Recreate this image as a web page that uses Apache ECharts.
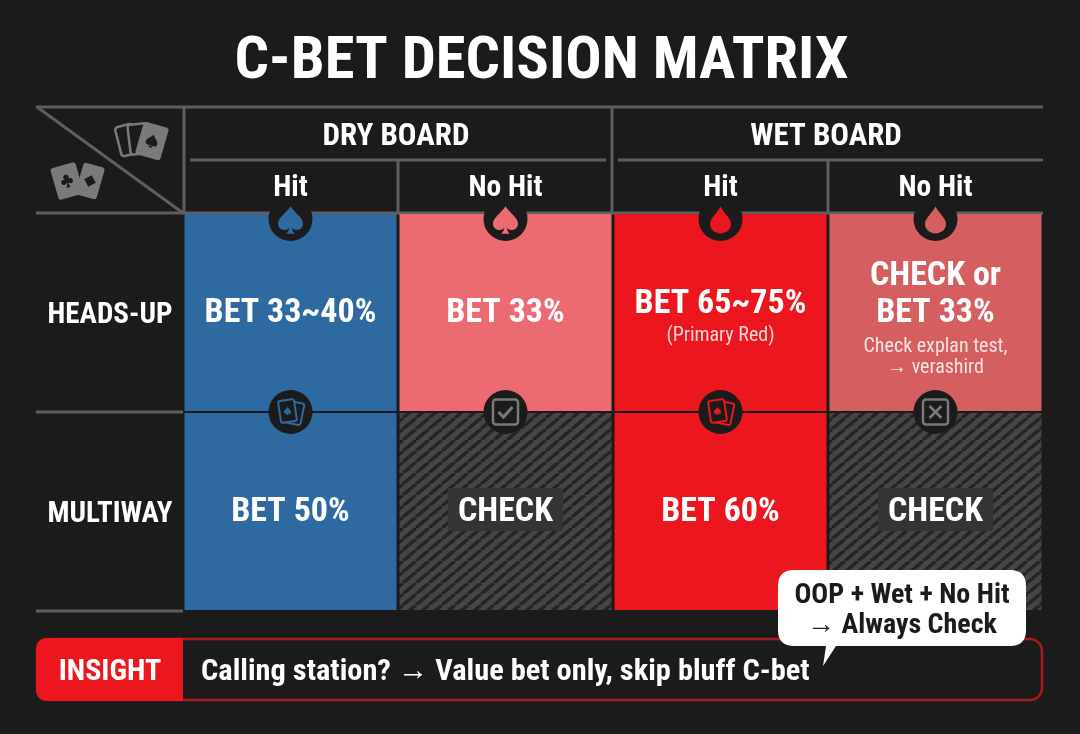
<!DOCTYPE html>
<html>
<head>
<meta charset="utf-8">
<title>C-Bet Decision Matrix</title>
<style>
  html, body { margin: 0; padding: 0; background: #1b1b1b; }
  #chart { width: 1080px; height: 734px; }
</style>
<script src="https://cdn.jsdelivr.net/npm/echarts@6/dist/echarts.min.js"></script>
</head>
<body>
<div id="chart"></div>
<script>
// table contents
var boards = ['DRY BOARD', 'WET BOARD'];
var columns = ['Hit', 'No Hit', 'Hit ', 'No Hit '];
var rows = ['HEADS-UP', 'MULTIWAY'];

var headsUpTitles = ['BET 33~40%', 'BET 33%', 'BET 65~75%', 'CHECK or\nBET 33%'];
var headsUpNotes = ['', '', '(Primary Red)', 'Check explan test,\n\u2192 verashird'];
var headsUpKinds = ['blue', 'salmon', 'red', 'muted'];
var headsUpIcons = ['spade', 'spade', 'drop', 'drop'];

var multiwayTitles = ['BET 50%', 'CHECK', 'BET 60%', 'CHECK'];
var multiwayNotes = ['', '', '', ''];
var multiwayKinds = ['blue', 'hatch', 'red', 'hatch'];
var multiwayIcons = ['cards', 'check', 'cards', 'cross'];

var titleText = 'C-BET DECISION MATRIX';
var insightLabel = 'INSIGHT';
var insightText = 'Calling station? \u2192 Value bet only, skip bluff C-bet';
var calloutText = 'OOP + Wet + No Hit\n\u2192 Always Check';

var titles = [headsUpTitles, multiwayTitles];
var notes = [headsUpNotes, multiwayNotes];
var kinds = [headsUpKinds, multiwayKinds];
var icons = [headsUpIcons, multiwayIcons];

var FONT = '"Roboto Condensed", "Liberation Sans Narrow", Roboto, sans-serif';
var BG = '#1b1b1b';
var LINE = '#5e5e5e';
var ICON = '#7a7a7a';
var colors = { blue: '#2e6a9f', salmon: '#ec6a72', red: '#ec161e', muted: '#d55f60' };

var SPADE = 'M12 1C8 7 2 10 2 15C2 18.5 5 20 7.5 20C9 20 10 19.4 11 18C10.8 20 10 22 8.5 23L15.5 23C14 22 13.2 20 13 18C14 19.4 15 20 16.5 20C19 20 22 18.5 22 15C22 10 16 7 12 1Z';
var CLUB = 'M12 1C9 1 7.5 3.5 7.5 5.5C7.5 7 8 8 9 9C5 7.5 2 10 2 13C2 16 5 18 7.5 17C9 16.5 10 15.5 11 14.5C10.8 17.5 10 20 8.5 23L15.5 23C14 20 13.2 17.5 13 14.5C14 15.5 15 16.5 16.5 17C19 18 22 16 22 13C22 10 19 7.5 15 9C16 8 16.5 7 16.5 5.5C16.5 3.5 15 1 12 1Z';
var DROP = 'M12 1C9 7 3 11 3 16C3 20.5 7 24 12 24C17 24 21 20.5 21 16C21 11 15 7 12 1Z';

function hatchPattern() {
  var w = 13;
  var h = 11;
  var c = document.createElement('canvas');
  c.width = w;
  c.height = h;
  var ctx = c.getContext('2d');
  ctx.fillStyle = '#464646';
  ctx.fillRect(0, 0, w, h);
  ctx.strokeStyle = '#242424';
  ctx.lineWidth = 3.5;
  [-w, 0, w].forEach(function (o) {
    ctx.beginPath();
    ctx.moveTo(o, h);
    ctx.lineTo(o + w, 0);
    ctx.stroke();
  });
  return { image: c, repeat: 'repeat' };
}
var hatch = hatchPattern();

function badgeIcon(name, color) {
  if (name === 'spade' || name === 'drop') {
    var w = name === 'spade' ? 25 : 21;
    return [{
      type: 'path', y: 1,
      shape: { pathData: name === 'spade' ? SPADE : DROP, layout: 'center', x: -w / 2, y: -14, width: w, height: 28 },
      style: { fill: color }
    }];
  }
  if (name === 'cards') {
    return [
      { type: 'rect', x: 4, y: 1, rotation: -0.2, shape: { x: -8, y: -11, width: 16, height: 22, r: 2 }, style: { fill: 'none', stroke: color, lineWidth: 2 } },
      { type: 'rect', x: -3, y: -1, rotation: 0.15, shape: { x: -8, y: -11, width: 16, height: 22, r: 2 }, style: { fill: BG, stroke: color, lineWidth: 2 } },
      { type: 'path', shape: { pathData: SPADE, layout: 'center', x: -7, y: -5, width: 8, height: 8 }, style: { fill: color } }
    ];
  }
  var mark = name === 'check'
    ? { type: 'polyline', shape: { points: [[-7, 0], [-2, 5], [7, -5]] }, style: { fill: 'none', stroke: color, lineWidth: 3 } }
    : { type: 'path', shape: { pathData: 'M-6 -6L6 6M6 -6L-6 6', layout: 'center', x: -6, y: -6, width: 12, height: 12 }, style: { fill: 'none', stroke: color, lineWidth: 2.5 } };
  return [
    { type: 'rect', shape: { x: -12.5, y: -12.5, width: 25, height: 25, r: 3 }, style: { fill: 'none', stroke: color, lineWidth: 2.5 } },
    mark
  ];
}

function cellText(text, y, size, weight, fill) {
  return {
    type: 'text', y: y,
    style: { text: text, font: weight + ' ' + size + 'px ' + FONT, fill: fill, align: 'center', verticalAlign: 'middle', lineHeight: size * 1.2 }
  };
}

function renderCell(params, api) {
  var col = api.value(0);
  var row = api.value(1);
  var c = api.coord([col, row]);
  var s = api.size([1, 1]);
  var kind = kinds[row][col];
  var title = titles[row][col];
  var note = notes[row][col];
  var children = [{
    type: 'rect',
    shape: { x: c[0] - s[0] / 2 + 1.5, y: c[1] - s[1] / 2 + 1, width: s[0] - 3, height: s[1] - 2 },
    style: { fill: kind === 'hatch' ? hatch : colors[kind] }
  }];
  var body = { type: 'group', x: c[0], y: c[1] + 1, children: [] };
  if (kind === 'hatch') {
    body.children.push({ type: 'rect', shape: { x: -57.5, y: -24.5, width: 115, height: 43, r: 3 }, style: { fill: '#343434' } });
  }
  if (title.indexOf('\n') >= 0) {
    var parts = title.split('\n');
    var extra = note.split('\n');
    body.children.push(cellText(parts[0], -37, 34, 'bold', '#fff'));
    body.children.push(cellText(parts[1], 0, 34, 'bold', '#fff'));
    body.children.push(cellText(extra[0], 33, 20, 'normal', 'rgba(255,255,255,0.82)'));
    body.children.push(cellText(extra[1], 54, 20, 'normal', 'rgba(255,255,255,0.82)'));
  } else if (note) {
    body.children.push(cellText(title, -9, 34, 'bold', '#fff'));
    body.children.push(cellText(note, 22, 20, 'normal', 'rgba(255,255,255,0.82)'));
  } else {
    body.children.push(cellText(title, 0, 34, 'bold', '#fff'));
  }
  children.push(body);
  return { type: 'group', children: children };
}

function renderBadge(params, api) {
  var col = api.value(0);
  var row = api.value(1);
  var c = api.coord([col, row]);
  var s = api.size([1, 1]);
  var name = icons[row][col];
  var color = kinds[row][col] === 'hatch' ? ICON : colors[kinds[row][col]];
  // first row badges sit a little below the header rule
  var y = c[1] - s[1] / 2 + (row === 0 ? 6 : 0);
  return {
    type: 'group', x: c[0], y: y,
    children: [{ type: 'circle', shape: { cx: 0, cy: 0, r: 22 }, style: { fill: BG } }].concat(badgeIcon(name, color))
  };
}

function filledCard(x, y, angle, w, h, mark) {
  return {
    type: 'group', x: x, y: y, rotation: angle,
    children: [
      { type: 'rect', shape: { x: -w / 2, y: -h / 2, width: w, height: h, r: 3 }, style: { fill: ICON } },
      { type: 'path', shape: { pathData: mark, layout: 'center', x: -6, y: -7, width: 12, height: 14 }, style: { fill: BG } }
    ]
  };
}

// corner card icons, insight bar and the callout on top of everything
function renderDecor() {
  return {
    type: 'group',
    children: [
      { type: 'rect', x: 127, y: 140, rotation: 0.25, shape: { x: -9, y: -15, width: 18, height: 30, r: 3 }, style: { fill: 'none', stroke: ICON, lineWidth: 2.5 } },
      { type: 'rect', x: 138, y: 139, rotation: 0.12, shape: { x: -9, y: -15, width: 18, height: 30, r: 3 }, style: { fill: BG, stroke: ICON, lineWidth: 2.5 } },
      filledCard(152, 141, -0.28, 26, 34, SPADE),
      filledCard(90, 181, -0.28, 22, 33, 'M12 4L20 12L12 20L4 12Z'),
      filledCard(67, 181, 0.28, 26, 33, CLUB),
      { type: 'rect', shape: { x: 37, y: 639, width: 1005, height: 61, r: 12 }, style: { fill: BG, stroke: '#a81a1e', lineWidth: 2.5 } },
      { type: 'path', shape: { pathData: 'M48 638L183 638L183 701L48 701Q36 701 36 689L36 650Q36 638 48 638Z', layout: 'cover', x: 36, y: 638, width: 147, height: 63 }, style: { fill: '#ec161e' } },
      { type: 'text', x: 110, y: 672, style: { text: insightLabel, font: 'bold 30px ' + FONT, fill: '#fff', align: 'center', verticalAlign: 'middle' } },
      { type: 'text', x: 201, y: 672, style: { text: insightText, font: 'bold 30.4px ' + FONT, fill: '#fff', align: 'left', verticalAlign: 'middle' } },
      { type: 'path', shape: { pathData: 'M794 570L1010 570Q1026 570 1026 586L1026 630Q1026 646 1010 646L836 646L823 666L826 646L794 646Q778 646 778 630L778 586Q778 570 794 570Z', layout: 'cover', x: 778, y: 570, width: 248, height: 96 }, style: { fill: '#fff' } },
      { type: 'text', x: 902, y: 610.5, style: { text: calloutText, font: 'bold 28px ' + FONT, fill: '#1b1b1b', align: 'center', verticalAlign: 'middle', lineHeight: 30 } }
    ]
  };
}

var cellData = [];
rows.forEach(function (r, ri) {
  columns.forEach(function (c, ci) {
    cellData.push([ci, ri]);
  });
});

function rule(x1, y1, x2, y2) {
  return { type: 'line', z: 1, shape: { x1: x1, y1: y1, x2: x2, y2: y2 }, style: { stroke: LINE, lineWidth: 3 } };
}

var chart = echarts.init(document.getElementById('chart'));
chart.setOption({
  backgroundColor: BG,
  animation: false,
  grid: { left: 183, top: 213, width: 860, height: 398 },
  xAxis: [{
    type: 'category', position: 'top', data: columns,
    axisLine: { show: false }, axisTick: { show: false }, splitLine: { show: false },
    axisLabel: { color: '#fff', fontFamily: FONT, fontSize: 29.5, fontWeight: 'bold', margin: 24, verticalAlign: 'middle', formatter: function (v) { return v.trim(); } }
  }, {
    type: 'category', position: 'top', offset: 76, data: boards,
    axisLine: { show: false }, axisTick: { show: false }, splitLine: { show: false },
    axisLabel: { color: '#fff', fontFamily: FONT, fontSize: 31, fontWeight: 'bold', margin: 0, verticalAlign: 'middle', padding: [0, 4, 0, 0] }
  }],
  yAxis: {
    type: 'category', inverse: true, data: rows,
    axisLine: { show: false }, axisTick: { show: false }, splitLine: { show: false },
    axisLabel: { color: '#fff', fontFamily: FONT, fontSize: 29, fontWeight: 'bold', margin: 73, align: 'center', verticalAlign: 'top', lineHeight: 6 }
  },
  series: [
    { type: 'custom', coordinateSystem: 'cartesian2d', data: cellData, renderItem: renderCell, z: 2, silent: true },
    { type: 'custom', coordinateSystem: 'cartesian2d', data: cellData, renderItem: renderBadge, z: 3, silent: true },
    { type: 'custom', coordinateSystem: 'cartesian2d', data: [[0, 0]], renderItem: renderDecor, z: 4, silent: true }
  ],
  graphic: { elements: [
    { type: 'text', x: 541.5, y: 63, scaleX: 1.025, z: 1, style: { text: titleText, font: 'bold 59px ' + FONT, fill: '#fff', align: 'center', verticalAlign: 'middle' } },
    rule(36, 107, 1043, 107), rule(36, 213, 1043, 213),
    rule(36, 412, 183, 412), rule(36, 611, 183, 611),
    rule(184, 107, 184, 213), rule(612, 107, 612, 213),
    rule(398, 160, 398, 213), rule(828, 160, 828, 213),
    rule(190, 160, 606, 160), rule(618, 160, 1043, 160),
    rule(37, 107, 183, 213)
  ] }
});
</script>
</body>
</html>
